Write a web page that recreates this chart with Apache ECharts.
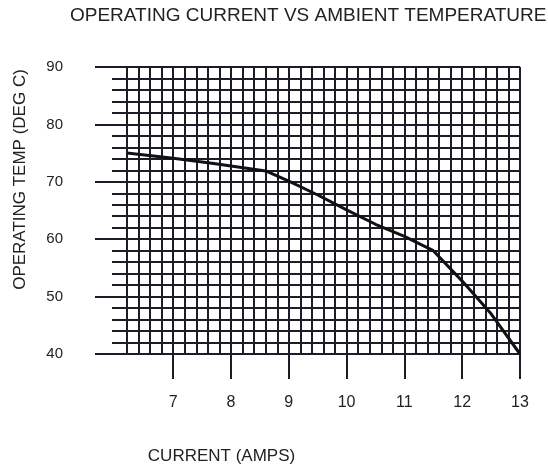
<!DOCTYPE html>
<html>
<head>
<meta charset="utf-8">
<script src="https://cdn.jsdelivr.net/npm/echarts@6/dist/echarts.min.js"></script>
<style>html,body{margin:0;padding:0;background:#fff;}#c{width:548px;height:470px;}</style>
</head>
<body>
<div id="c"></div>
<script>
const titleText = 'OPERATING CURRENT VS AMBIENT TEMPERATURE';
const xName = 'CURRENT (AMPS)';
const yName = 'OPERATING TEMP (DEG C)';
const current = [6.2, 7.0, 7.7, 8.6, 9.0, 9.5, 10.0, 10.5, 11.0, 11.5, 12.0, 12.5, 13.0];
const temp    = [75.0, 74.1, 73.2, 71.9, 70.1, 67.7, 65.1, 62.6, 60.5, 58.0, 52.7, 47.0, 40.0];
const xTickLabels = [7, 8, 9, 10, 11, 12, 13];
const yTickLabels = [40, 50, 60, 70, 80, 90];

const ink = '#1c1c28';
const font = 'Liberation Sans, Arial, sans-serif';
const chart = echarts.init(document.getElementById('c'));
chart.setOption({
  animation: false,
  backgroundColor: '#fff',
  title: {
    text: titleText, left: 70, top: 6, padding: 0,
    textStyle: { fontFamily: font, fontSize: 19, fontWeight: 'normal', color: '#222' }
  },
  grid: { left: 127, right: 28, top: 67, bottom: 115 },
  xAxis: [
    {
      type: 'value', min: 6.2, max: 13, interval: 0.2, position: 'bottom',
      axisLine: { show: true, lineStyle: { color: ink, width: 2 } },
      axisTick: { show: false },
      axisLabel: { show: false },
      splitLine: { show: true, lineStyle: { color: ink, width: 2 } }
    },
    {
      type: 'value', min: 6.2, max: 13, position: 'bottom',
      name: xName, nameLocation: 'middle', nameGap: 94,
      nameTextStyle: { fontFamily: font, fontSize: 17, color: '#222', padding: [0, 204, 0, 0] },
      axisLine: { show: false },
      axisTick: { show: true, customValues: xTickLabels, length: 25, lineStyle: { color: ink, width: 2 } },
      axisLabel: { show: true, customValues: xTickLabels, margin: 41, fontFamily: font, fontSize: 16, color: '#222' },
      splitLine: { show: false }
    }
  ],
  yAxis: [
    {
      type: 'value', min: 40, max: 90, interval: 2, position: 'left',
      axisLine: { show: true, lineStyle: { color: ink, width: 2 } },
      axisTick: { show: true, length: 15, lineStyle: { color: ink, width: 2 } },
      axisLabel: { show: false },
      splitLine: { show: true, lineStyle: { color: ink, width: 2 } }
    },
    {
      type: 'value', min: 40, max: 90, position: 'left',
      name: yName, nameLocation: 'middle', nameGap: 98,
      nameTextStyle: { fontFamily: font, fontSize: 17, color: '#222', padding: [0, 0, 0, 62] },
      axisLine: { show: false },
      axisTick: { show: true, customValues: yTickLabels, length: 32, lineStyle: { color: ink, width: 2 } },
      axisLabel: { show: true, customValues: yTickLabels, margin: 64, fontFamily: font, fontSize: 15, color: '#222' },
      splitLine: { show: false }
    }
  ],
  series: [{
    type: 'line', xAxisIndex: 0, yAxisIndex: 0,
    data: current.map((c, i) => [c, temp[i]]),
    showSymbol: false, symbol: 'none', smooth: false,
    lineStyle: { color: '#111', width: 3 }
  }]
});
</script>
</body>
</html>
